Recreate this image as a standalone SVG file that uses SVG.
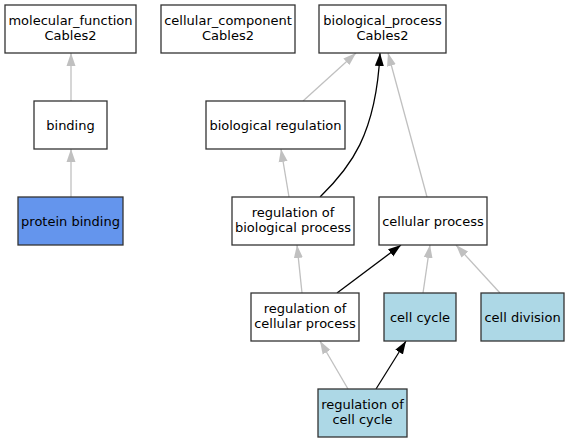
<svg xmlns="http://www.w3.org/2000/svg" width="569" height="443" viewBox="0 0 569 443">
<style>
.n{stroke:#333;stroke-width:1.3}
.w{fill:#fff}
.lb{fill:#add8e6}
.pb{fill:#6495ed}
text{font-family:"DejaVu Sans",sans-serif;font-size:13px;fill:#000;text-anchor:middle}
.g{stroke:#c0c0c0;stroke-width:1.3;fill:none;marker-end:url(#ag)}
.k{stroke:#000;stroke-width:1.3;fill:none;marker-end:url(#ak)}
</style>
<defs>
<marker id="ag" markerUnits="userSpaceOnUse" markerWidth="13" markerHeight="10" refX="13" refY="5" orient="auto" viewBox="0 0 13 10"><path d="M0,0.5 L13,5 L0,9.5 Z" fill="#c0c0c0"/></marker>
<marker id="ak" markerUnits="userSpaceOnUse" markerWidth="13" markerHeight="10" refX="13" refY="5" orient="auto" viewBox="0 0 13 10"><path d="M0,0.5 L13,5 L0,9.5 Z" fill="#000"/></marker>
</defs>
<rect width="569" height="443" fill="#fff"/>
<g id="edges">
<line class="g" x1="71" y1="101" x2="71" y2="53"/>
<line class="g" x1="71" y1="197" x2="71" y2="149"/>
<line class="g" x1="303" y1="101" x2="356" y2="53"/>
<line class="g" x1="289" y1="197" x2="281" y2="149"/>
<path class="k" d="M320,197 C350,168 376,135 380,53"/>
<line class="g" x1="427" y1="197" x2="388" y2="53"/>
<line class="g" x1="302" y1="293" x2="297" y2="245"/>
<line class="k" x1="337" y1="293" x2="401" y2="245"/>
<line class="g" x1="423" y1="293" x2="430" y2="245"/>
<line class="g" x1="500" y1="293" x2="456" y2="245"/>
<line class="g" x1="348" y1="389" x2="320" y2="341"/>
<line class="k" x1="376" y1="389" x2="406" y2="341"/>
</g>
<g id="molecular_function"><rect class="n w" x="5" y="5" width="131" height="48"/><text x="70.5" y="25">molecular_function</text><text x="70.5" y="40">Cables2</text></g>
<g id="cellular_component"><rect class="n w" x="161" y="5" width="134" height="48"/><text x="228" y="25">cellular_component</text><text x="228" y="40">Cables2</text></g>
<g id="biological_process"><rect class="n w" x="319" y="5" width="127" height="48"/><text x="382.5" y="25">biological_process</text><text x="382.5" y="40">Cables2</text></g>
<g id="binding"><rect class="n w" x="34" y="101" width="73" height="48"/><text x="70.5" y="129.5">binding</text></g>
<g id="biological_regulation"><rect class="n w" x="206" y="101" width="139" height="48"/><text x="275.5" y="129.5">biological regulation</text></g>
<g id="protein_binding"><rect class="n pb" x="18" y="197" width="105" height="48"/><text x="70.5" y="225.5">protein binding</text></g>
<g id="regulation_of_biological_process"><rect class="n w" x="232" y="197" width="122" height="48"/><text x="293" y="217">regulation of</text><text x="293" y="232">biological process</text></g>
<g id="cellular_process"><rect class="n w" x="379" y="197" width="108" height="48"/><text x="433" y="225.5">cellular process</text></g>
<g id="regulation_of_cellular_process"><rect class="n w" x="251" y="293" width="108" height="48"/><text x="305" y="313">regulation of</text><text x="305" y="328">cellular process</text></g>
<g id="cell_cycle"><rect class="n lb" x="384" y="293" width="72" height="48"/><text x="420" y="321.5">cell cycle</text></g>
<g id="cell_division"><rect class="n lb" x="481" y="293" width="83" height="48"/><text x="522.5" y="321.5">cell division</text></g>
<g id="regulation_of_cell_cycle"><rect class="n lb" x="318" y="389" width="89" height="48"/><text x="362.5" y="409">regulation of</text><text x="362.5" y="424">cell cycle</text></g>
</svg>
